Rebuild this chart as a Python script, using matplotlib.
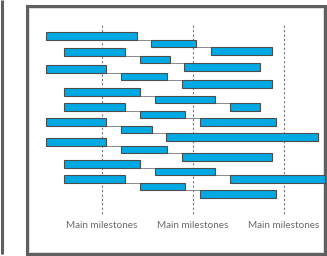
import matplotlib.pyplot as plt

# chaines de taches : haut de la premiere barre (px) et intervalles [debut, fin]
tops = [32, 48, 65, 88, 103, 118, 138, 160, 175]
taches = [
    [(46, 137), (151, 196), (211, 272)],
    [(64, 125), (140, 170), (184, 260)],
    [(46, 106), (121, 167), (182, 272)],
    [(64, 140), (155, 215), (230, 260)],
    [(64, 125), (140, 185), (200, 276)],
    [(46, 106), (121, 152), (166, 318)],
    [(46, 106), (121, 167), (182, 272)],
    [(64, 140), (155, 215), (230, 325)],
    [(64, 125), (140, 185), (200, 276)],
]
jalons = [102, 193, 284]
label = "Main milestones"

h = 7.5  # hauteur d'une barre
bleu = "#00a9e2"

fig = plt.figure(figsize=(3.27, 2.56), dpi=100)
ax = fig.add_axes([0, 0, 1, 1])
ax.set_xlim(0, 327)
ax.set_ylim(256, 0)
ax.axis("off")

# cadre
ax.add_patch(plt.Rectangle((26.5, 5.5), 298, 248, fill=False,
                           edgecolor="#5f5f5f", lw=2.2))
ax.add_patch(plt.Rectangle((28.5, 7.5), 294, 244, fill=False,
                           edgecolor="#dddddd", lw=0.7))
ax.plot([2, 2], [0, 254], color="#5f5f5f", lw=2.2, solid_capstyle="butt")

# jalons
for x in jalons:
    ax.plot([x, x], [25, 214], color="#777777", lw=0.8, ls=(0, (2, 2)))
    ax.text(x, 225, label, ha="center", va="center", color="#6a6a6a",
            fontsize=7.1, family="Lato")

# barres et liens
for top, chaine in zip(tops, taches):
    for i, (d, f) in enumerate(chaine):
        y = top + i * h
        ax.barh(y + h / 2, f - d, left=d, height=h, color=bleu,
                edgecolor="#4d4d4d", lw=0.8, zorder=3)
        if i < len(chaine) - 1:
            ax.plot([f, chaine[i + 1][0]], [y + h, y + h], color="#8a8a8a",
                    lw=0.7, zorder=2)

fig.savefig("out.png", dpi=100)
